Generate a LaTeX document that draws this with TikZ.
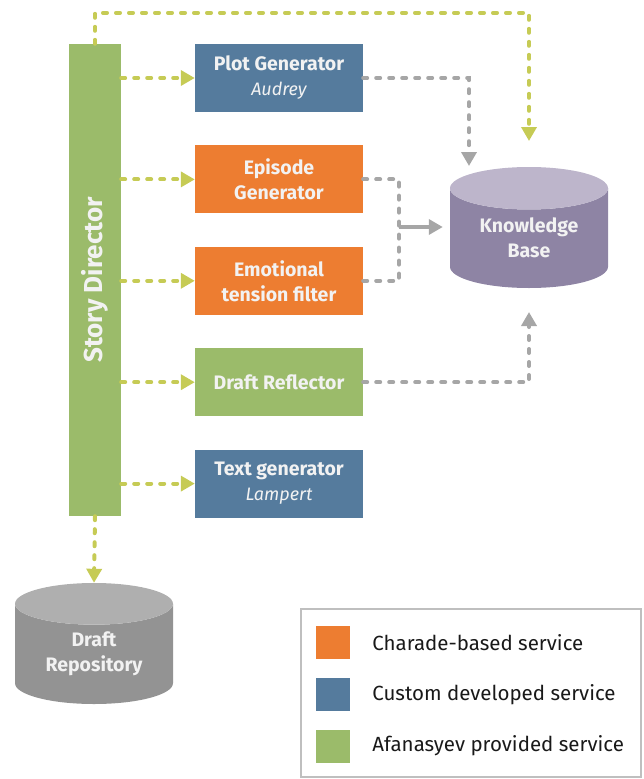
\documentclass[tikz,border=0pt]{standalone}
\usepackage{fontspec}
\setmainfont{Fira Sans}
\usepackage{xcolor}
\usetikzlibrary{arrows.meta, positioning, shapes.geometric}

\definecolor{chgreen}{HTML}{9BBB6A}
\definecolor{chblue}{HTML}{557B9D}
\definecolor{chorange}{HTML}{ED7D31}
\definecolor{chlink}{HTML}{C6CB55}
\definecolor{chgray}{HTML}{A6A6A6}
\definecolor{kbbody}{HTML}{8E84A4}
\definecolor{kbtop}{HTML}{BDB5CB}
\definecolor{repobody}{HTML}{939393}
\definecolor{repotop}{HTML}{AFAFAF}
\definecolor{boxtext}{HTML}{F2F2F2}
\definecolor{frame}{HTML}{BFBFBF}

\tikzset{
  service/.style={minimum width=168pt, minimum height=68pt, inner sep=0pt,
    text=boxtext, align=center, font=\bfseries\fontsize{19.5}{25}\selectfont},
  store/.style={cylinder, shape border rotate=90, aspect=0.43,
    minimum width=158pt, minimum height=121pt, inner sep=0pt,
    anchor=shape center,
    cylinder uses custom fill, text=boxtext, align=center,
    font=\bfseries\fontsize{19.5}{25}\selectfont},
  calls/.style={chlink, line width=4pt, line cap=round,
    dash pattern=on 4pt off 9pt, -{Triangle[width=15pt,length=14pt]}},
  feeds/.style={chgray, line width=4pt, line cap=round,
    dash pattern=on 4pt off 9pt, -{Triangle[width=15pt,length=14pt]}},
  swatch/.style={minimum width=34pt, minimum height=33pt, inner sep=0pt},
  legendtext/.style={right=22pt of #1, inner sep=0pt, text=black!90,
    font=\fontsize{20.5}{24}\selectfont}
}

\begin{document}
\begin{tikzpicture}[x=1pt, y=-1pt]
  \useasboundingbox (0,0) rectangle (644,779);

  % director bar and the services it drives
  \node[rotate=90, fill=chgreen, minimum width=472pt, minimum height=52pt,
    inner sep=0pt, text=boxtext, font=\bfseries\fontsize{26}{30}\selectfont]
    (director) at (95,280) {Story Director};

  \node[service, fill=chblue] (plot) at (279,78) {Plot Generator\\
    {\mdseries\itshape\fontsize{18}{20}\selectfont Audrey}};
  \node[service, fill=chorange, below=33pt of plot] (episode) {Episode\\Generator};
  \node[service, fill=chorange, below=33pt of episode] (emotion) {Emotional\\tension filter};
  \node[service, fill=chgreen, below=33pt of emotion] (reflector) {Draft Reflector};
  \node[service, fill=chblue, below=33pt of reflector] (textgen) {Text generator\\
    {\mdseries\itshape\fontsize{18}{20}\selectfont Lampert}};

  % data stores
  \node[store, cylinder body fill=kbbody, cylinder end fill=kbtop]
    (kb) at (529,227.5) {Knowledge\\Base};
  \node[store, cylinder body fill=repobody, cylinder end fill=repotop]
    (repo) at (94,643.5) {Draft\\Repository};

  % free ends next to the knowledge base
  \coordinate (kbtopin) at (529,141);
  \coordinate (kbplotin) at (469,166);
  \coordinate (kbbotin) at (529,312);
  \coordinate (join) at (399,227);

  % director calls
  \foreach \svc in {plot, episode, emotion, reflector, textgen}
    \draw[calls] (director.south |- \svc.west) -- (\svc.west);
  \draw[calls] (director.east) -- ++(0,-31) -| (kbtopin);
  \draw[calls] (director.west) -- (repo.north);

  % services feeding the knowledge base
  \draw[feeds] (plot.east) -| (kbplotin);
  \draw[feeds, -] (episode.east) -| (join) |- (emotion.east);
  \draw[chgray, line width=4pt, -{Triangle[width=15pt,length=14pt]},
    shorten >=7pt] (join) -- (kb.west |- join);
  \draw[feeds] (reflector.east) -| (kbbotin);

  % legend
  \draw[frame, line width=1.5pt] (301,609) rectangle (641,777);
  \node[swatch, fill=chorange] (swcharade) at (333,642.5) {};
  \node[swatch, fill=chblue] (swcustom) at (333,694.5) {};
  \node[swatch, fill=chgreen] (swafan) at (333,746) {};
  \node[legendtext=swcharade] (lbcharade) {Charade-based service};
  \node[legendtext=swcustom] (lbcustom) {Custom developed service};
  \node[legendtext=swafan] (lbafan) {Afanasyev provided service};
\end{tikzpicture}
\end{document}
